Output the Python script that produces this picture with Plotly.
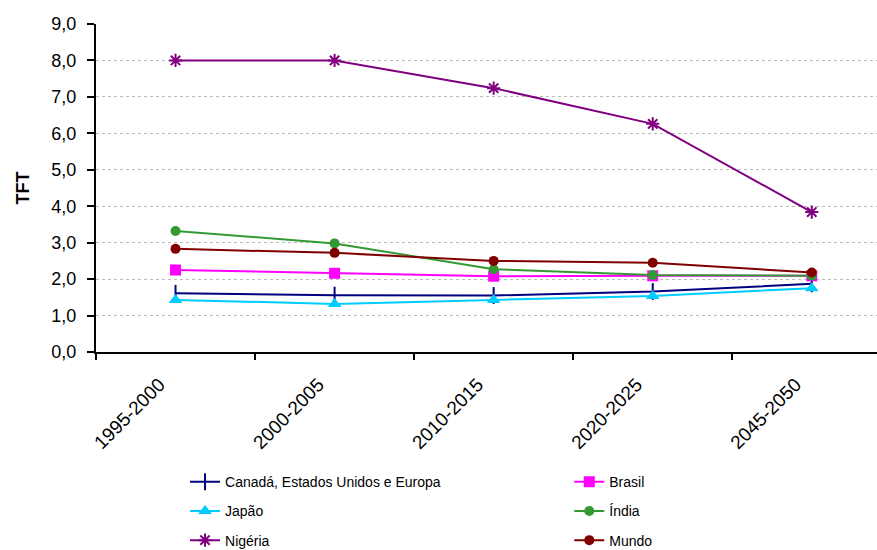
import plotly.graph_objects as go

periods = ["1995-2000", "2000-2005", "2010-2015", "2020-2025", "2045-2050"]
canada_eua_europa = [1.61, 1.56, 1.55, 1.66, 1.87]
brasil = [2.25, 2.16, 2.08, 2.09, 2.09]
japao = [1.43, 1.32, 1.43, 1.54, 1.75]
india = [3.32, 2.98, 2.27, 2.11, 2.09]
nigeria = [8.0, 8.0, 7.24, 6.26, 3.84]
mundo = [2.83, 2.72, 2.50, 2.45, 2.18]
y_ticks = [0, 1, 2, 3, 4, 5, 6, 7, 8, 9]
y_tick_text = ["0,0", "1,0", "2,0", "3,0", "4,0", "5,0", "6,0", "7,0", "8,0", "9,0"]

series = [
    ("Canadá, Estados Unidos e Europa", canada_eua_europa, "#000080", "line-ns", 12, "legend"),
    ("Brasil", brasil, "#FF00FF", "square", 11, "legend2"),
    ("Japão", japao, "#00CCFF", "triangle-up", 12, "legend"),
    ("Índia", india, "#339933", "circle", 10, "legend2"),
    ("Nigéria", nigeria, "#800080", "asterisk", 11, "legend"),
    ("Mundo", mundo, "#800000", "circle", 10, "legend2"),
]

fig = go.Figure()
for i, (name, vals, color, sym, size, leg) in enumerate(series):
    fig.add_trace(go.Scatter(
        x=periods, y=vals, name=name, mode="lines+markers",
        line=dict(color=color, width=2),
        marker=dict(symbol=sym, size=size, color=color,
                    line=dict(color=color, width=2 if sym in ("line-ns", "asterisk") else 0)),
        legend=leg, legendgroup=name,
    ))

legend_common = dict(
    orientation="v", yanchor="top", xanchor="left",
    font=dict(family="Liberation Sans, Arial", size=14, color="#000000"),
    tracegroupgap=8, bgcolor="rgba(0,0,0,0)",
)

fig.update_layout(
    width=877, height=550,
    margin=dict(l=96, r=0, t=24, b=198, autoexpand=False),
    paper_bgcolor="white", plot_bgcolor="white",
    font=dict(family="Liberation Sans, Arial", size=18, color="#000000"),
    xaxis=dict(
        type="category", range=[-0.5, 4.41],
        showline=True, linecolor="black", linewidth=2,
        ticks="outside", tickson="boundaries", ticklen=6, tickcolor="black", tickwidth=1.5,
        tickangle=-45, tickfont=dict(size=19), showgrid=False, automargin=False,
        ticklabelshift=-16, ticklabelstandoff=12,
    ),
    yaxis=dict(
        range=[0, 9], tickvals=y_ticks, ticktext=y_tick_text,
        showline=True, linecolor="black", linewidth=2,
        ticks="outside", ticklen=7, tickcolor="black", tickwidth=1.5,
        ticklabelstandoff=7, automargin=False,
        showgrid=True, gridcolor="#BBBBBB", griddash="dot", gridwidth=1,
        zeroline=False, tickfont=dict(size=18),
        title=dict(text="<b>TFT</b>", font=dict(size=18), standoff=17),
    ),
    legend=dict(x=0.114, y=-0.348, **legend_common),
    legend2=dict(x=0.606, y=-0.348, **legend_common),
)

fig.write_html("out.html")
